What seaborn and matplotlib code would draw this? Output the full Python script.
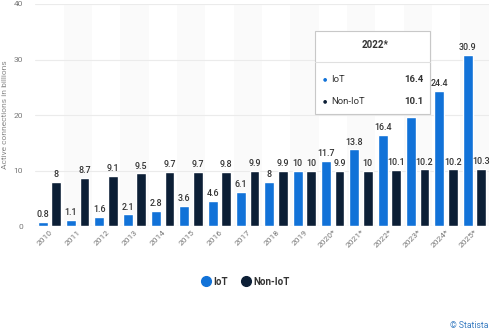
import matplotlib
matplotlib.use("Agg")
import matplotlib.pyplot as plt
import seaborn as sns
import pandas as pd
from matplotlib.patches import Rectangle
from matplotlib.lines import Line2D

years = ["2010", "2011", "2012", "2013", "2014", "2015", "2016", "2017", "2018",
         "2019", "2020*", "2021*", "2022*", "2023*", "2024*", "2025*"]
iot = [0.8, 1.1, 1.6, 2.1, 2.8, 3.6, 4.6, 6.1, 8, 10, 11.7, 13.8, 16.4, 19.7, 24.4, 30.9]
non_iot = [8, 8.7, 9.1, 9.5, 9.7, 9.7, 9.8, 9.9, 9.9, 10, 9.9, 10, 10.1, 10.2, 10.2, 10.3]
series = ["IoT", "Non-IoT"]
colors = ["#1172d8", "#0c1f36"]
y_ticks = [0, 10, 20, 30, 40]

df = pd.DataFrame({
    "year": years * 2,
    "value": iot + non_iot,
    "series": [series[0]] * len(years) + [series[1]] * len(years),
})

sns.set_theme(style="white")
plt.rcParams["font.family"] = ["Roboto", "DejaVu Sans"]

fig = plt.figure(figsize=(4.9, 3.32), dpi=100)
ax = fig.add_axes([0.072, 0.319, 0.925, 0.669])

for i in range(len(years)):
    if i % 2 == 1:
        ax.axvspan(i - 0.5, i + 0.5, color="#fafafa", zorder=0, lw=0)

sns.barplot(data=df, x="year", y="value", hue="series", palette=colors,
            width=0.95, gap=0.27, ax=ax, legend=False, zorder=3,
            saturation=1)

for cont in ax.containers:
    labels = ["{:g}".format(v) for v in cont.datavalues]
    ax.bar_label(cont, labels=labels, padding=2, fontsize=6.4,
                 color="#333333", fontweight="medium", zorder=4)

ax.set_ylim(0, 40)
ax.set_xlim(-0.5, len(years) - 0.5)
ax.set_yticks(y_ticks)
ax.yaxis.grid(True, color="#ebebeb", lw=0.8, zorder=1)
ax.set_axisbelow(True)
for s in ax.spines.values():
    s.set_visible(False)
ax.axhline(0, color="#d9d9d9", lw=0.8, zorder=2)
ax.tick_params(axis="y", labelsize=6, labelcolor="#777777", length=0, pad=9)
ax.tick_params(axis="x", labelsize=6, labelcolor="#777777", length=0, pad=2)
plt.setp(ax.get_xticklabels(), rotation=45, ha="right", rotation_mode="anchor")
ax.set_xlabel("")
ax.set_ylabel("Active connections in billions", fontsize=6, color="#888888", labelpad=4)

# Legend
handles = [Line2D([0], [0], marker="o", ls="", markersize=7, markerfacecolor=c,
                  markeredgecolor=c) for c in colors]
leg = fig.legend(handles, series, loc="center", bbox_to_anchor=(0.5, 0.152),
                 ncol=2, frameon=False, fontsize=7, handletextpad=0.2,
                 columnspacing=1.2, handlelength=1.2)
for t in leg.get_texts():
    t.set_fontweight("bold")
    t.set_color("#333333")

# Tooltip
W, H = 490.0, 332.0
def fx(px): return px / W
def fy(py): return 1 - py / H
tip = Rectangle((fx(315), fy(114)), fx(430) - fx(315), fy(31) - fy(114),
                transform=fig.transFigure, facecolor="white", edgecolor="#c8c8c8",
                lw=0.8, zorder=10)
fig.patches.append(tip)
fig.add_artist(Line2D([fx(315), fx(430)], [fy(61.5), fy(61.5)], color="#e0e0e0",
                      lw=0.8, transform=fig.transFigure, zorder=11))
fig.text(fx(375), fy(45), "2022*", ha="center", va="center", fontsize=7,
         fontweight="bold", color="#333333", zorder=12)
rows = [(79, series[0], iot[12], colors[0]), (101, series[1], non_iot[12], colors[1])]
for py, name, val, c in rows:
    fig.text(fx(325), fy(py), "●", ha="center", va="center", fontsize=3.5, color=c, zorder=12)
    fig.text(fx(331), fy(py), name, ha="left", va="center", fontsize=6.8,
             color="#333333", zorder=12)
    fig.text(fx(423), fy(py), "{:g}".format(val), ha="right", va="center", fontsize=6.8,
             fontweight="bold", color="#333333", zorder=12)

fig.text(fx(488), fy(325), "© Statista", ha="right", va="center", fontsize=6.2,
         color="#3b7ec2")

fig.savefig("out.png", dpi=100)
